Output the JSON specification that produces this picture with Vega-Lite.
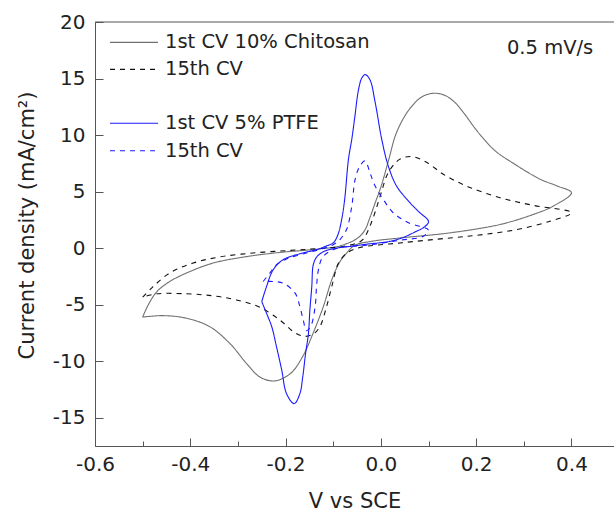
{
"$schema":"https://vega.github.io/schema/vega-lite/v6.json",
"width":519,"height":424,
"autosize":{"type":"none"},
"padding":{"left":95,"top":22,"right":0,"bottom":67},
"config":{"font":"DejaVu Sans","view":{"stroke":null},
 "axis":{"grid":false,"domainColor":"#555","tickColor":"#555","labelColor":"#222","titleColor":"#222","labelFontSize":20,"titleFontWeight":"normal","labelFlush":false,"labelOverlap":false,"tickSize":-8}},
"layer":[
{"data":{"values":[
{"s":"A","i":1,"x":-0.5,"y":-6.1},{"s":"A","i":2,"x":-0.488,"y":-5.0},{"s":"A","i":3,"x":-0.47,"y":-3.84},{"s":"A","i":4,"x":-0.443,"y":-2.95},{"s":"A","i":5,"x":-0.408,"y":-2.2},{"s":"A","i":6,"x":-0.352,"y":-1.32},{"s":"A","i":7,"x":-0.282,"y":-0.75},{"s":"A","i":8,"x":-0.212,"y":-0.38},{"s":"A","i":9,"x":-0.135,"y":-0.1},{"s":"A","i":10,"x":-0.09,"y":0.15},{"s":"A","i":11,"x":-0.072,"y":0.4},{"s":"A","i":12,"x":-0.058,"y":0.65},{"s":"A","i":13,"x":-0.044,"y":1.05},{"s":"A","i":14,"x":-0.033,"y":1.64},{"s":"A","i":15,"x":-0.023,"y":2.7},{"s":"A","i":16,"x":-0.012,"y":4.0},{"s":"A","i":17,"x":0.0,"y":5.4},{"s":"A","i":18,"x":0.017,"y":7.9},{"s":"A","i":19,"x":0.03,"y":9.9},{"s":"A","i":20,"x":0.045,"y":11.3},{"s":"A","i":21,"x":0.062,"y":12.4},{"s":"A","i":22,"x":0.085,"y":13.35},{"s":"A","i":23,"x":0.11,"y":13.7},{"s":"A","i":24,"x":0.135,"y":13.5},{"s":"A","i":25,"x":0.155,"y":12.9},{"s":"A","i":26,"x":0.175,"y":11.9},{"s":"A","i":27,"x":0.194,"y":10.8},{"s":"A","i":28,"x":0.215,"y":9.7},{"s":"A","i":29,"x":0.24,"y":8.6},{"s":"A","i":30,"x":0.278,"y":7.5},{"s":"A","i":31,"x":0.334,"y":6.1},{"s":"A","i":32,"x":0.37,"y":5.5},{"s":"A","i":33,"x":0.4,"y":4.9},{"s":"A","i":34,"x":0.362,"y":3.72},{"s":"A","i":35,"x":0.32,"y":2.98},{"s":"A","i":36,"x":0.25,"y":2.09},{"s":"A","i":37,"x":0.145,"y":1.35},{"s":"A","i":38,"x":0.04,"y":0.9},{"s":"A","i":39,"x":-0.02,"y":0.6},{"s":"A","i":40,"x":-0.055,"y":0.25},{"s":"A","i":41,"x":-0.072,"y":-0.45},{"s":"A","i":42,"x":-0.086,"y":-1.2},{"s":"A","i":43,"x":-0.103,"y":-2.8},{"s":"A","i":44,"x":-0.121,"y":-5.2},{"s":"A","i":45,"x":-0.142,"y":-7.5},{"s":"A","i":46,"x":-0.163,"y":-9.5},{"s":"A","i":47,"x":-0.185,"y":-10.9},{"s":"A","i":48,"x":-0.205,"y":-11.5},{"s":"A","i":49,"x":-0.226,"y":-11.75},{"s":"A","i":50,"x":-0.254,"y":-11.4},{"s":"A","i":51,"x":-0.282,"y":-10.2},{"s":"A","i":52,"x":-0.317,"y":-8.43},{"s":"A","i":53,"x":-0.359,"y":-6.95},{"s":"A","i":54,"x":-0.408,"y":-6.2},{"s":"A","i":55,"x":-0.457,"y":-5.97},{"s":"A","i":56,"x":-0.5,"y":-6.1},
{"s":"B","i":1,"x":-0.5,"y":-4.34},{"s":"B","i":2,"x":-0.478,"y":-3.4},{"s":"B","i":3,"x":-0.443,"y":-2.2},{"s":"B","i":4,"x":-0.394,"y":-1.32},{"s":"B","i":5,"x":-0.338,"y":-0.78},{"s":"B","i":6,"x":-0.268,"y":-0.43},{"s":"B","i":7,"x":-0.198,"y":-0.22},{"s":"B","i":8,"x":-0.135,"y":-0.05},{"s":"B","i":9,"x":-0.08,"y":0.15},{"s":"B","i":10,"x":-0.05,"y":0.45},{"s":"B","i":11,"x":-0.037,"y":0.8},{"s":"B","i":12,"x":-0.023,"y":1.94},{"s":"B","i":13,"x":-0.012,"y":3.2},{"s":"B","i":14,"x":0.0,"y":4.8},{"s":"B","i":15,"x":0.0155,"y":6.68},{"s":"B","i":16,"x":0.04,"y":7.87},{"s":"B","i":17,"x":0.065,"y":8.1},{"s":"B","i":18,"x":0.096,"y":7.6},{"s":"B","i":19,"x":0.131,"y":6.53},{"s":"B","i":20,"x":0.18,"y":5.49},{"s":"B","i":21,"x":0.25,"y":4.46},{"s":"B","i":22,"x":0.32,"y":3.78},{"s":"B","i":23,"x":0.4,"y":3.13},{"s":"B","i":24,"x":0.355,"y":2.38},{"s":"B","i":25,"x":0.285,"y":1.64},{"s":"B","i":26,"x":0.215,"y":1.2},{"s":"B","i":27,"x":0.145,"y":0.9},{"s":"B","i":28,"x":0.04,"y":0.46},{"s":"B","i":29,"x":-0.044,"y":0.05},{"s":"B","i":30,"x":-0.07,"y":-0.4},{"s":"B","i":31,"x":-0.089,"y":-1.32},{"s":"B","i":32,"x":-0.103,"y":-3.4},{"s":"B","i":33,"x":-0.114,"y":-5.17},{"s":"B","i":34,"x":-0.128,"y":-6.95},{"s":"B","i":35,"x":-0.142,"y":-7.6},{"s":"B","i":36,"x":-0.16,"y":-7.8},{"s":"B","i":37,"x":-0.18,"y":-7.5},{"s":"B","i":38,"x":-0.212,"y":-6.36},{"s":"B","i":39,"x":-0.254,"y":-5.23},{"s":"B","i":40,"x":-0.303,"y":-4.58},{"s":"B","i":41,"x":-0.352,"y":-4.22},{"s":"B","i":42,"x":-0.408,"y":-4.04},{"s":"B","i":43,"x":-0.47,"y":-4.04},{"s":"B","i":44,"x":-0.5,"y":-4.34},
{"s":"C","i":1,"x":-0.25,"y":-4.73},{"s":"C","i":2,"x":-0.24,"y":-3.4},{"s":"C","i":3,"x":-0.226,"y":-1.91},{"s":"C","i":4,"x":-0.205,"y":-1.02},{"s":"C","i":5,"x":-0.17,"y":-0.5},{"s":"C","i":6,"x":-0.135,"y":-0.13},{"s":"C","i":7,"x":-0.114,"y":0.2},{"s":"C","i":8,"x":-0.1,"y":0.46},{"s":"C","i":9,"x":-0.09,"y":1.2},{"s":"C","i":10,"x":-0.082,"y":2.6},{"s":"C","i":11,"x":-0.076,"y":4.3},{"s":"C","i":12,"x":-0.068,"y":7.87},{"s":"C","i":13,"x":-0.061,"y":9.64},{"s":"C","i":14,"x":-0.055,"y":11.5},{"s":"C","i":15,"x":-0.047,"y":14.0},{"s":"C","i":16,"x":-0.04,"y":15.05},{"s":"C","i":17,"x":-0.033,"y":15.35},{"s":"C","i":18,"x":-0.023,"y":14.9},{"s":"C","i":19,"x":-0.012,"y":12.9},{"s":"C","i":20,"x":0.0017,"y":9.64},{"s":"C","i":21,"x":0.0155,"y":7.27},{"s":"C","i":22,"x":0.033,"y":5.49},{"s":"C","i":23,"x":0.061,"y":4.02},{"s":"C","i":24,"x":0.08,"y":3.2},{"s":"C","i":25,"x":0.1,"y":2.35},{"s":"C","i":26,"x":0.089,"y":1.8},{"s":"C","i":27,"x":0.075,"y":1.5},{"s":"C","i":28,"x":0.047,"y":0.95},{"s":"C","i":29,"x":0.019,"y":0.6},{"s":"C","i":30,"x":-0.03,"y":0.35},{"s":"C","i":31,"x":-0.065,"y":0.15},{"s":"C","i":32,"x":-0.093,"y":0.0},{"s":"C","i":33,"x":-0.12,"y":-0.3},{"s":"C","i":34,"x":-0.135,"y":-0.8},{"s":"C","i":35,"x":-0.142,"y":-1.5},{"s":"C","i":36,"x":-0.145,"y":-3.4},{"s":"C","i":37,"x":-0.149,"y":-5.47},{"s":"C","i":38,"x":-0.152,"y":-7.54},{"s":"C","i":39,"x":-0.158,"y":-9.3},{"s":"C","i":40,"x":-0.164,"y":-11.4},{"s":"C","i":41,"x":-0.17,"y":-12.87},{"s":"C","i":42,"x":-0.182,"y":-13.75},{"s":"C","i":43,"x":-0.198,"y":-12.87},{"s":"C","i":44,"x":-0.208,"y":-10.8},{"s":"C","i":45,"x":-0.219,"y":-8.73},{"s":"C","i":46,"x":-0.229,"y":-6.95},{"s":"C","i":47,"x":-0.24,"y":-5.76},{"s":"C","i":48,"x":-0.25,"y":-4.73},
{"s":"D","i":1,"x":-0.247,"y":-2.95},{"s":"D","i":2,"x":-0.233,"y":-2.2},{"s":"D","i":3,"x":-0.219,"y":-1.47},{"s":"D","i":4,"x":-0.198,"y":-0.96},{"s":"D","i":5,"x":-0.17,"y":-0.58},{"s":"D","i":6,"x":-0.135,"y":-0.2},{"s":"D","i":7,"x":-0.1,"y":0.3},{"s":"D","i":8,"x":-0.086,"y":0.76},{"s":"D","i":9,"x":-0.072,"y":1.64},{"s":"D","i":10,"x":-0.061,"y":3.72},{"s":"D","i":11,"x":-0.054,"y":6.09},{"s":"D","i":12,"x":-0.044,"y":7.27},{"s":"D","i":13,"x":-0.033,"y":7.72},{"s":"D","i":14,"x":-0.023,"y":6.68},{"s":"D","i":15,"x":-0.012,"y":5.49},{"s":"D","i":16,"x":0.005,"y":4.31},{"s":"D","i":17,"x":0.026,"y":3.13},{"s":"D","i":18,"x":0.058,"y":2.24},{"s":"D","i":19,"x":0.1,"y":1.6},{"s":"D","i":20,"x":0.089,"y":1.05},{"s":"D","i":21,"x":0.04,"y":0.7},{"s":"D","i":22,"x":-0.03,"y":0.25},{"s":"D","i":23,"x":-0.09,"y":0.0},{"s":"D","i":24,"x":-0.121,"y":-0.73},{"s":"D","i":25,"x":-0.131,"y":-1.91},{"s":"D","i":26,"x":-0.135,"y":-3.4},{"s":"D","i":27,"x":-0.138,"y":-5.17},{"s":"D","i":28,"x":-0.147,"y":-6.9},{"s":"D","i":29,"x":-0.156,"y":-7.3},{"s":"D","i":30,"x":-0.163,"y":-6.36},{"s":"D","i":31,"x":-0.17,"y":-5.17},{"s":"D","i":32,"x":-0.18,"y":-3.98},{"s":"D","i":33,"x":-0.205,"y":-3.1},{"s":"D","i":34,"x":-0.226,"y":-2.95},{"s":"D","i":35,"x":-0.247,"y":-2.95}
]},
"mark":{"type":"line","interpolate":"catmull-rom","strokeWidth":1.1},
"encoding":{
 "x":{"field":"x","type":"quantitative","scale":{"domain":[-0.6,0.4893],"nice":false,"zero":false},
   "axis":{"values":[-0.6,-0.5,-0.4,-0.3,-0.2,-0.1,0,0.1,0.2,0.3,0.4],
     "tickDash":{"condition":{"test":"round(datum.value*10) % 2 !== 0","value":[5,20]},"value":[10,0]},
     "labelExpr":"round(datum.value*10) % 2 !== 0 ? '' : replace(format(datum.value,'.1f'),'−','-')",
     "labelPadding":16,"title":"V vs SCE","titleFontSize":21,"titlePadding":16}},
 "y":{"field":"y","type":"quantitative","scale":{"domain":[-17.5,20],"nice":false,"zero":false},
   "axis":{"values":[-15,-12.5,-10,-7.5,-5,-2.5,0,2.5,5,7.5,10,12.5,15,17.5,20],
     "tickDash":{"condition":{"test":"datum.value % 5 !== 0","value":[5,20]},"value":[10,0]},
     "labelExpr":"datum.value % 5 !== 0 ? '' : replace(format(datum.value,'d'),'−','-')",
     "labelPadding":18,"title":"Current density (mA/cm²)","titleFontSize":21,"titlePadding":15,"titleY":203}},
 "color":{"field":"s","type":"nominal","scale":{"domain":["A","B","C","D"],"range":["#707070","#111111","#1a1aff","#1a1aff"]},"legend":null},
 "strokeDash":{"field":"s","type":"nominal","scale":{"domain":["A","B","C","D"],"range":[[1,0],[5,5],[1,0],[5,5]]},"legend":null},
 "order":{"field":"i","type":"quantitative"}
}},
{"data":{"values":[{}]},"mark":{"type":"rule","color":"#555","strokeWidth":1},"encoding":{"y":{"datum":20}}},
{"data":{"values":[{}]},"mark":{"type":"rule","color":"#707070","strokeWidth":1.1},"encoding":{"x":{"datum":-0.5685},"x2":{"datum":-0.4678},"y":{"datum":18.2}}},
{"data":{"values":[{}]},"mark":{"type":"rule","color":"#111111","strokeWidth":1.1,"strokeDash":[5,5]},"encoding":{"x":{"datum":-0.5685},"x2":{"datum":-0.4678},"y":{"datum":15.81}}},
{"data":{"values":[{}]},"mark":{"type":"rule","color":"#1a1aff","strokeWidth":1.1},"encoding":{"x":{"datum":-0.5685},"x2":{"datum":-0.4678},"y":{"datum":11.04}}},
{"data":{"values":[{}]},"mark":{"type":"rule","color":"#1a1aff","strokeWidth":1.1,"strokeDash":[5,5]},"encoding":{"x":{"datum":-0.5685},"x2":{"datum":-0.4678},"y":{"datum":8.61}}},
{"data":{"values":[{}]},"mark":{"type":"text","text":"1st CV 10% Chitosan","align":"left","baseline":"middle","fontSize":19.5,"color":"#222"},"encoding":{"x":{"datum":-0.4531},"y":{"datum":18.2}}},
{"data":{"values":[{}]},"mark":{"type":"text","text":"15th CV","align":"left","baseline":"middle","fontSize":19.5,"color":"#222"},"encoding":{"x":{"datum":-0.4531},"y":{"datum":15.81}}},
{"data":{"values":[{}]},"mark":{"type":"text","text":"1st CV 5% PTFE","align":"left","baseline":"middle","fontSize":19.5,"color":"#222"},"encoding":{"x":{"datum":-0.4531},"y":{"datum":11.04}}},
{"data":{"values":[{}]},"mark":{"type":"text","text":"15th CV","align":"left","baseline":"middle","fontSize":19.5,"color":"#222"},"encoding":{"x":{"datum":-0.4531},"y":{"datum":8.61}}},
{"data":{"values":[{}]},"mark":{"type":"text","text":"0.5 mV/s","align":"left","baseline":"middle","fontSize":19.5,"color":"#222"},"encoding":{"x":{"datum":0.2646},"y":{"datum":17.67}}}
]
}
